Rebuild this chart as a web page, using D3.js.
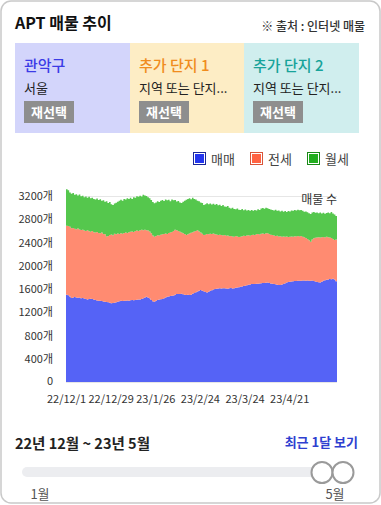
<!DOCTYPE html>
<html><head><meta charset="utf-8">
<script src="https://cdn.jsdelivr.net/npm/d3@7"></script>
<style>
html,body{margin:0;padding:0;background:#fff;}
svg{display:block;font-family:"Noto Sans CJK KR","Noto Sans",sans-serif;}
</style></head>
<body><svg id="c" width="381" height="505"></svg>
<script>
// ---------- data ----------
const seriesNames = ["매매", "전세", "월세"];
const tickLabels = ["22/12/1", "22/12/29", "23/1/26", "23/2/24", "23/3/24", "23/4/21"];
const yTicks = [0, 400, 800, 1200, 1600, 2000, 2400, 2800, 3200];
const startDate = "2022-12-01", missingDate = "2023-02-12";
const sale = [
1500,1492,1470,1445,1452,1462,1455,1448,1452,1440,
1445,1436,1428,1420,1426,1432,1430,1418,1410,1404,
1400,1396,1392,1385,1380,1376,1370,1362,1356,1360,
1364,1372,1380,1388,1396,1394,1400,1398,1402,1400,
1405,1410,1408,1412,1416,1420,1418,1426,1440,1452,
1468,1455,1440,1410,1390,1382,1398,1410,1418,1425,
1430,1440,1455,1465,1470,1478,1482,1490,1500,1512,
1516,1514,1518,1508,1500,1498,1502,1496,1500,1520,
1530,1542,1556,1572,1584,1570,1560,1548,1540,1552,
1568,1580,1590,1600,1606,1610,1612,1608,1612,1615,
1610,1606,1612,1616,1610,1614,1620,1626,1632,1638,
1645,1652,1658,1666,1672,1678,1684,1688,1686,1690,
1692,1696,1700,1705,1702,1708,1712,1704,1696,1690,
1686,1680,1674,1670,1668,1676,1688,1700,1712,1720,
1726,1730,1734,1736,1738,1742,1744,1742,1746,1748,
1744,1746,1742,1740,1745,1738,1730,1722,1716,1710,
1725,1740,1752,1760,1764,1770,1768,1778,1762,1735];
const jeonse = [
1190,1193,1202,1200,1198,1176,1175,1192,1170,1175,
1175,1169,1170,1190,1166,1153,1166,1160,1160,1178,
1165,1164,1178,1163,1160,1129,1142,1168,1182,1165,
1186,1170,1176,1160,1164,1158,1162,1172,1163,1178,
1180,1180,1174,1186,1189,1180,1194,1192,1170,1168,
1144,1150,1150,1150,1130,1118,1114,1115,1102,1107,
1110,1108,1100,1080,1095,1094,1098,1110,1118,1098,
1082,1071,1052,1052,1048,1032,1038,1059,1068,1055,
1060,1058,1054,1018,986,980,968,987,1005,988,
984,968,965,940,932,920,923,920,910,915,
905,914,896,896,895,884,890,876,864,862,
863,863,852,854,853,840,846,847,842,850,
853,842,850,850,846,852,846,841,839,838,
834,832,841,835,840,824,817,798,790,775,
774,775,764,772,764,768,761,770,754,742,
734,714,698,675,705,734,750,766,776,775,
765,755,736,738,728,715,710,682,683,715];
const monthly = [
625,615,588,593,600,582,602,570,603,580,
585,575,594,560,593,575,576,572,570,576,
565,582,548,577,560,605,568,565,522,520,
520,543,544,572,575,566,588,570,597,572,
583,560,598,574,590,585,593,572,610,590,
586,575,570,570,575,575,578,585,578,588,
590,567,585,583,570,538,560,525,512,495,
514,505,510,540,572,605,610,605,577,595,
560,540,510,520,520,530,517,525,530,518,
518,507,513,510,524,510,513,502,523,490,
500,510,492,473,495,477,460,483,469,460,
467,440,458,430,435,427,428,410,432,410,
425,422,435,440,432,440,432,430,433,432,
430,450,430,445,427,445,425,442,423,445,
435,445,447,452,448,452,450,446,445,440,
457,460,465,475,465,453,430,430,413,430,
410,417,407,410,423,420,447,440,435,405];

// categories (daily dates, one missing day)
const parse = d3.timeParse("%Y-%m-%d"), fmt = d3.timeFormat("%y/%-m/%-d");
const miss = fmt(parse(missingDate));
const categories = [];
for (let d = parse(startDate); categories.length < sale.length; d = d3.timeDay.offset(d, 1)) {
  const s = fmt(d); if (s !== miss) categories.push(s);
}
const rows = categories.map((c, i) => ({cat: c, i, "매매": sale[i], "전세": jeonse[i], "월세": monthly[i]}));

// ---------- drawing ----------
const svg = d3.select("#c");
const areaColors = ["#5563f6", "#ff8b71", "#55c74d"];
const legendColors = ["#2436ee", "#ff6343", "#21ad1e"];
const legendStroke = ["#1a2699", "#d9553a", "#1b8a18"];

svg.append("rect").attr("x", 1).attr("y", 1).attr("width", 379).attr("height", 502)
  .attr("rx", 10).attr("fill", "#fff").attr("stroke", "#c9c9c9").attr("stroke-width", 1.5);

svg.append("text").attr("x", 15).attr("y", 29).attr("font-size", 16).attr("font-weight", 700)
  .attr("fill", "#111").text("APT 매물 추이");
svg.append("text").attr("x", 365).attr("y", 31).attr("text-anchor", "end").attr("font-size", 12)
  .attr("font-weight", 500).attr("fill", "#333").text("※ 출처 : 인터넷 매물");

const boxes = [
  {x: 15, w: 115, bg: "#d3d5fb", tc: "#3b3be6", title: "관악구", sub: "서울"},
  {x: 130, w: 114, bg: "#fdedc5", tc: "#f08c1e", title: "추가 단지 1", sub: "지역 또는 단지..."},
  {x: 244, w: 115, bg: "#d0eeee", tc: "#17a39a", title: "추가 단지 2", sub: "지역 또는 단지..."}
];
const bg = svg.append("g").selectAll("g").data(boxes).join("g");
bg.append("rect").attr("x", d => d.x).attr("y", 43).attr("width", d => d.w).attr("height", 90).attr("fill", d => d.bg);
bg.append("text").attr("x", d => d.x + 9).attr("y", 71).attr("font-size", 15).attr("font-weight", 500)
  .attr("fill", d => d.tc).text(d => d.title);
bg.append("text").attr("x", d => d.x + 9).attr("y", 93).attr("font-size", 13).attr("fill", "#222").text(d => d.sub);
bg.append("rect").attr("x", d => d.x + 9).attr("y", 101).attr("width", 50).attr("height", 22).attr("fill", "#8e8e8e");
bg.append("text").attr("x", d => d.x + 34).attr("y", 117).attr("text-anchor", "middle").attr("font-size", 13)
  .attr("font-weight", 700).attr("fill", "#fff").text("재선택");

// legend
const legX = [193, 250, 307];
const lg = svg.append("g").selectAll("g").data(seriesNames).join("g");
lg.append("rect").attr("x", (d, i) => legX[i] + 0.5).attr("y", 152.5).attr("width", 12).attr("height", 12)
  .attr("fill", "#fff").attr("stroke", (d, i) => legendStroke[i]).attr("stroke-width", 1);
lg.append("rect").attr("x", (d, i) => legX[i] + 2).attr("y", 154).attr("width", 9).attr("height", 9)
  .attr("fill", (d, i) => legendColors[i]);
lg.append("text").attr("x", (d, i) => legX[i] + 18).attr("y", 164).attr("font-size", 13).attr("fill", "#444").text(d => d);

// scales
const x = d3.scaleLinear().domain([0, rows.length]).range([66, 337]);
const y = d3.scaleLinear().domain([0, 3200]).range([382, 196]);

svg.append("g").selectAll("line").data(yTicks).join("line")
  .attr("x1", 66).attr("x2", 337).attr("y1", d => y(d) + 0.5).attr("y2", d => y(d) + 0.5)
  .attr("stroke", "#e6e6e6");

const stack = d3.stack().keys(seriesNames)(rows);
const area = d3.area().curve(d3.curveStepAfter)
  .x(d => x(d.data.i)).y0(d => y(d[0])).y1(d => y(d[1]));
svg.append("g").selectAll("path").data(stack).join("path")
  .attr("fill", (d, i) => areaColors[i])
  .attr("d", s => area([...s, Object.assign([s[s.length - 1][0], s[s.length - 1][1]], {data: {i: rows.length}})]));

// y axis labels
const yAxis = d3.axisLeft(y).tickValues(yTicks).tickSize(0).tickPadding(0)
  .tickFormat(d => d === 0 ? "0" : d + "개");
const ya = svg.append("g").attr("transform", "translate(53,0)").call(yAxis);
ya.select(".domain").remove();
ya.selectAll("text").attr("font-size", 11).attr("fill", "#333").attr("font-family", "'Noto Sans CJK KR',sans-serif");
ya.selectAll(".tick").filter(d => d === 0).select("text").attr("dy", "0.2em");

// x axis labels
const tickIdx = tickLabels.map(t => categories.indexOf(t));
const xAxis = d3.axisBottom(x).tickValues(tickIdx).tickSize(0).tickPadding(0)
  .tickFormat(v => categories[v]);
const xa = svg.append("g").attr("transform", "translate(0,395)").call(xAxis);
xa.select(".domain").remove();
xa.selectAll("text").attr("font-size", 11).attr("fill", "#333").attr("font-family", "'Noto Sans CJK KR',sans-serif");

svg.append("text").attr("x", 337).attr("y", 204).attr("text-anchor", "end").attr("font-size", 12)
  .attr("fill", "#333").text("매물 수");

// bottom controls
svg.append("text").attr("x", 15).attr("y", 449).attr("font-size", 14.5).attr("font-weight", 700)
  .attr("fill", "#222").text("22년 12월 ~ 23년 5월");
svg.append("text").attr("x", 358).attr("y", 447).attr("text-anchor", "end").attr("font-size", 13)
  .attr("font-weight", 600).attr("fill", "#2f3fd0").text("최근 1달 보기");
svg.append("rect").attr("x", 22).attr("y", 467).attr("width", 316).attr("height", 10).attr("rx", 5).attr("fill", "#ecedf0");
[322, 343].forEach(cx => svg.append("circle").attr("cx", cx).attr("cy", 472.5).attr("r", 10.5)
  .attr("fill", "#fff").attr("stroke", "#9a9a9a").attr("stroke-width", 2));
svg.append("text").attr("x", 40).attr("y", 499).attr("text-anchor", "middle").attr("font-size", 13).attr("fill", "#555").text("1월");
svg.append("text").attr("x", 335).attr("y", 499).attr("text-anchor", "middle").attr("font-size", 13).attr("fill", "#555").text("5월");
</script></body></html>
